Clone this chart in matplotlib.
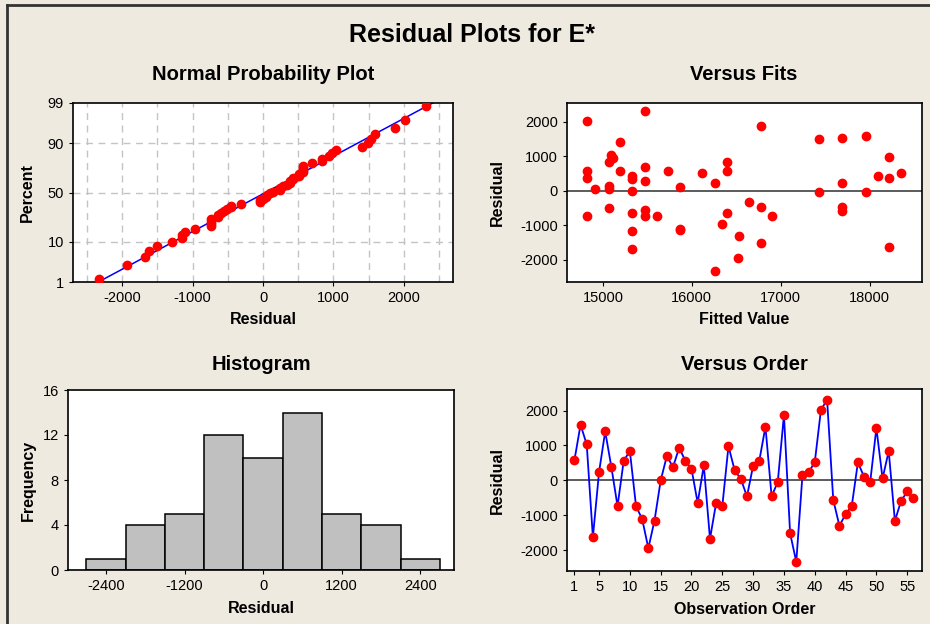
import numpy as np
import matplotlib
matplotlib.use("Agg")
import matplotlib.pyplot as plt
from matplotlib.lines import Line2D
from statistics import NormalDist

# ============================
# Data
# ============================
residuals = [573, 1594, 1031, -1623, 239, 1403, 382, -735, 563, 840,
             -735, -1107, -1938, -1146, 0, 697, 382, 936, 563, 334,
             -640, 430, -1671, -640, -735, 983, 290, 48, -458, 420,
             563, 1537, -458, -38, 1871, -1510, -2330, 143, 239, 516,
             2014, 2310, -554, -1298, -964, -735, 516, 105, -38, 1499,
             57, 840, -1155, -592, -315, -506]

fitted = [15727, 17963, 15090, 18222, 16260, 15197, 18222, 15476, 14817, 16392,
          15603, 15862, 16520, 15862, 15329, 15476, 14817, 15110, 15197, 15329,
          15329, 15329, 15329, 16392, 14817, 18222, 15476, 14908, 16776, 18091,
          16392, 17692, 17692, 17433, 16776, 16776, 16260, 15073, 17692, 16118,
          14817, 15476, 15476, 16535, 16336, 16903, 18350, 15862, 17963, 17433,
          15073, 15073, 15329, 17692, 16640, 15073]

hist_edges = [-2700, -2100, -1500, -900, -300, 300, 900, 1500, 2100, 2700]
pct_ticks = [1, 10, 50, 90, 99]
order_ticks = [1, 5, 10, 15, 20, 25, 30, 35, 40, 45, 50, 55]

# ============================
# Style
# ============================
BG = "#EEEAE0"
RED = "#FF0000"
BLUE = "#0000FF"
plt.rcParams["font.family"] = ["Liberation Sans", "DejaVu Sans"]
plt.rcParams["axes.unicode_minus"] = False
plt.rcParams["xtick.labelsize"] = 10.5
plt.rcParams["ytick.labelsize"] = 10.5
plt.rcParams["axes.linewidth"] = 1.2
plt.rcParams["xtick.major.size"] = 3
plt.rcParams["ytick.major.size"] = 3

W, H = 930, 624
fig = plt.figure(figsize=(W / 100, H / 100), dpi=100, facecolor=BG)


def px_axes(left, top, right, bottom):
    return fig.add_axes([left / W, 1 - bottom / H, (right - left) / W, (bottom - top) / H])


def label_font(ax, xlabel, ylabel, ypos):
    ax.set_xlabel(xlabel, fontsize=11.5, fontweight="bold")
    ax.set_ylabel(ylabel, fontsize=11.5, fontweight="bold")
    ax.xaxis.set_label_coords(0.5, -0.17)
    ax.yaxis.set_label_coords(ypos, 0.5)


res = np.array(residuals, dtype=float)
n = len(res)
nd = NormalDist()

# ============================
# 1. Normal probability plot
# ============================
ax1 = px_axes(73, 103, 453, 282)
srt = np.sort(res)
probs = (np.arange(1, n + 1) - 0.3) / (n + 0.4)
z = np.array([nd.inv_cdf(p) for p in probs])
zlo, zhi = nd.inv_cdf(0.01), nd.inv_cdf(0.99)
mu, sd = res.mean(), res.std(ddof=1)
zl = np.linspace(zlo - 0.2, zhi + 0.2, 10)
for gx in np.arange(-2500, 2501, 500):
    ax1.axvline(gx, color="#C4C4C4", lw=1, ls=(0, (5, 4)), zorder=0)
for p in [10, 50, 90]:
    ax1.axhline(nd.inv_cdf(p / 100), color="#C4C4C4", lw=1, ls=(0, (5, 4)), zorder=0)
ax1.plot(mu + sd * zl, zl, color=BLUE, lw=1.1, zorder=2)
ax1.plot(srt, z, "o", color=RED, ms=6, zorder=3)
ax1.set_xlim(-2700, 2700)
ax1.set_ylim(zlo, zhi)
ax1.set_yticks([nd.inv_cdf(p / 100) for p in pct_ticks])
ax1.set_yticklabels([str(p) for p in pct_ticks])
ax1.set_xticks([-2000, -1000, 0, 1000, 2000])
label_font(ax1, "Residual", "Percent", -0.1)

# ============================
# 2. Versus fits
# ============================
ax2 = px_axes(567, 103, 922, 282)
ax2.axhline(0, color="#404040", lw=1.2, zorder=1)
ax2.plot(fitted, residuals, "o", color=RED, ms=6, zorder=3)
ax2.set_xlim(14595, 18590)
ax2.set_ylim(-2640, 2540)
ax2.set_xticks([15000, 16000, 17000, 18000])
ax2.set_yticks([-2000, -1000, 0, 1000, 2000])
label_font(ax2, "Fitted Value", "Residual", -0.174)

# ============================
# 3. Histogram
# ============================
ax3 = px_axes(68, 390, 454, 570)
ax3.hist(res, bins=hist_edges, color="#C0C0C0", edgecolor="black", lw=1.1)
ax3.set_xlim(-2980, 2915)
ax3.set_ylim(0, 16)
ax3.set_xticks([-2400, -1200, 0, 1200, 2400])
ax3.set_yticks([0, 4, 8, 12, 16])
label_font(ax3, "Residual", "Frequency", -0.084)

# ============================
# 4. Versus order
# ============================
ax4 = px_axes(567, 389, 922, 571)
obs = np.arange(1, n + 1)
ax4.axhline(0, color="#404040", lw=1.2, zorder=1)
ax4.plot(obs, res, "-", color=BLUE, lw=1.3, zorder=2)
ax4.plot(obs, res, "o", color=RED, ms=6, zorder=3)
ax4.set_xlim(-0.2, 57.4)
ax4.set_ylim(-2590, 2616)
ax4.set_xticks(order_ticks)
ax4.set_yticks([-2000, -1000, 0, 1000, 2000])
label_font(ax4, "Observation Order", "Residual", -0.174)

for ax in (ax1, ax2, ax3, ax4):
    ax.set_facecolor("white")
    for s in ax.spines.values():
        s.set_color("black")

# ============================
# Titles and frame
# ============================
fig.text(472 / W, 1 - 35 / H, "Residual Plots for E*", fontsize=18, fontweight="bold",
         ha="center", va="center")
for xc, yc, t in [(263, 75, "Normal Probability Plot"), (744, 75, "Versus Fits"),
                  (261, 365, "Histogram"), (744, 365, "Versus Order")]:
    fig.text(xc / W, 1 - yc / H, t, fontsize=14.5, fontweight="bold", ha="center", va="center")

fig.add_artist(Line2D([7 / W, 7 / W], [0, 1 - 5 / H], color="#333333", lw=2))
fig.add_artist(Line2D([7 / W, 1], [1 - 5 / H, 1 - 5 / H], color="#333333", lw=2))

plt.savefig("out.png", dpi=100, facecolor=BG)
plt.close()
